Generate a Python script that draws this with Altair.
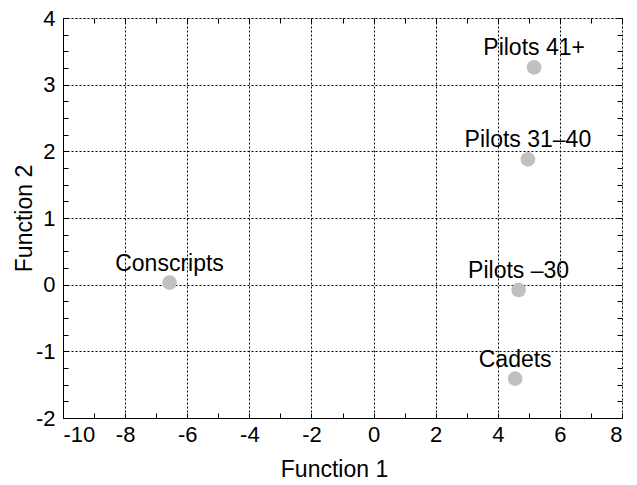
import altair as alt
import pandas as pd

groups = ["Pilots 41+", "Pilots 31–40", "Pilots –30", "Cadets", "Conscripts"]
function1 = [5.17, 4.97, 4.67, 4.56, -6.57]
function2 = [3.26, 1.88, -0.08, -1.41, 0.03]

x_major = [-10, -8, -6, -4, -2, 0, 2, 4, 6, 8]
x_minor = list(range(-10, 9))
y_major = [-2, -1, 0, 1, 2, 3, 4]
y_minor = [v / 4 for v in range(-8, 17)]

df = pd.DataFrame({"group": groups, "f1": function1, "f2": function2})

W, H = 559, 400
FONT = "Liberation Sans"

xs = alt.Scale(domain=[-10, 8], nice=False, zero=False)
ys = alt.Scale(domain=[-2, 4], nice=False, zero=False)

base = alt.Chart(df)

main = base.mark_circle(size=215, color="#c0c0c0", opacity=1).encode(
    x=alt.X("f1:Q", scale=xs, axis=alt.Axis(
        orient="bottom", values=x_major, grid=True, gridColor="#000000",
        gridDash=[2, 2], gridWidth=1, gridOpacity=1, ticks=False, domain=True,
        domainColor="#000000", labelFontSize=22, labelFont=FONT, labelColor="#000000",
        labelExpr="datum.value + ''",
        labelPadding=6, title="Function 1", titleFont=FONT, titleFontSize=23,
        titleFontWeight="normal", titleColor="#000000", titleBaseline="middle",
        titleX=271, titleY=51)),
    y=alt.Y("f2:Q", scale=ys, axis=alt.Axis(
        orient="left", values=y_major, grid=True, gridColor="#000000",
        gridDash=[2, 2], gridWidth=1, gridOpacity=1, ticks=False, domain=True,
        domainColor="#000000", labelFontSize=22, labelFont=FONT, labelColor="#000000",
        labelExpr="datum.value + ''",
        labelPadding=8, title="Function 2", titleFont=FONT, titleFontSize=23,
        titleFontWeight="normal", titleColor="#000000", titleBaseline="middle",
        titleAngle=-90, titleX=-39, titleY=200)),
)

tick_a = base.mark_circle(opacity=0).encode(
    x=alt.X("f1:Q", scale=xs, axis=alt.Axis(
        orient="top", offset=-H, values=x_minor, ticks=True, tickSize=5,
        tickColor="#000000", tickWidth=1, labels=False, domain=False, grid=False,
        title=None)),
    y=alt.Y("f2:Q", scale=ys, axis=alt.Axis(
        orient="right", offset=-W, values=y_minor, ticks=True, tickSize=5,
        tickColor="#000000", tickWidth=1, labels=False, domain=False, grid=False,
        title=None)),
)

tick_b = base.mark_circle(opacity=0).encode(
    x=alt.X("f1:Q", scale=xs, axis=alt.Axis(
        orient="bottom", offset=-H, values=x_minor, ticks=True, tickSize=5,
        tickColor="#000000", tickWidth=1, labels=False, domain=False, grid=False,
        title=None)),
    y=alt.Y("f2:Q", scale=ys, axis=alt.Axis(
        orient="left", offset=-W, values=y_minor, ticks=True, tickSize=5,
        tickColor="#000000", tickWidth=1, labels=False, domain=False, grid=False,
        title=None)),
)

labels = base.mark_text(font=FONT, fontSize=23, color="#000000",
                        baseline="alphabetic", align="center", dy=-12).encode(
    x=alt.X("f1:Q", scale=xs, axis=None),
    y=alt.Y("f2:Q", scale=ys, axis=None),
    text="group:N",
)

chart = alt.layer(main, tick_a, tick_b, labels).resolve_axis(
    x="independent", y="independent"
).properties(
    width=W, height=H,
    autosize=alt.AutoSizeParams(type="none"),
    padding={"left": 55, "top": 10, "right": 5, "bottom": 66},
).configure_view(stroke="#000000", strokeWidth=1).configure(background="white")

chart.save("out.html", embed_options={"renderer": "svg", "actions": False})
